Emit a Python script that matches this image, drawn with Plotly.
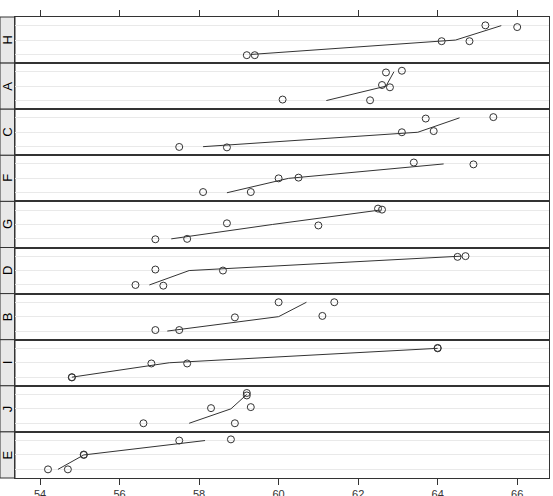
import numpy as np
import plotly.graph_objects as go
from plotly.subplots import make_subplots

# Panels, top to bottom
panels = ["H", "A", "C", "F", "G", "D", "B", "I", "J", "E"]
# y level of each point (two points per level)
levels = [1, 1, 2, 2, 3, 3]

# x values per panel (same order as levels)
H_x = [59.2, 59.4, 64.1, 64.8, 65.2, 66.0]
A_x = [60.1, 62.3, 62.6, 62.8, 62.7, 63.1]
C_x = [57.5, 58.7, 63.1, 63.9, 63.7, 65.4]
F_x = [58.1, 59.3, 60.0, 60.5, 63.4, 64.9]
G_x = [56.9, 57.7, 58.7, 61.0, 62.5, 62.6]
D_x = [56.4, 57.1, 56.9, 58.6, 64.5, 64.7]
B_x = [56.9, 57.5, 58.9, 61.1, 60.0, 61.4]
I_x = [54.8, 54.8, 56.8, 57.7, 64.0, 64.0]
J_x = [56.6, 58.9, 58.3, 59.3, 59.2, 59.2]
E_x = [54.2, 54.7, 55.1, 55.1, 57.5, 58.8]

# small vertical jitter of each point
H_j = [-0.05, -0.05, -0.08, -0.08, 0.02, -0.10]
A_j = [0.07, 0.02, 0.08, -0.08, -0.05, 0.07]
C_j = [-0.02, -0.05, 0.0, 0.08, -0.05, 0.05]
F_j = [0.05, 0.05, 0.0, 0.05, 0.10, -0.03]
G_j = [-0.03, 0.0, 0.08, -0.07, 0.10, 0.03]
D_j = [0.0, -0.05, 0.07, 0.0, -0.05, 0.0]
B_j = [0.07, 0.07, -0.05, 0.05, 0.0, 0.0]
I_j = [-0.02, 0.0, -0.05, -0.05, 0.03, 0.0]
J_j = [0.0, 0.0, 0.05, 0.12, 0.10, -0.07]
E_j = [0.0, 0.0, 0.03, 0.0, 0.0, 0.08]

x_ticks = [54, 56, 58, 60, 62, 64, 66]

xs = {"H": H_x, "A": A_x, "C": C_x, "F": F_x, "G": G_x,
      "D": D_x, "B": B_x, "I": I_x, "J": J_x, "E": E_x}
js = {"H": H_j, "A": A_j, "C": C_j, "F": F_j, "G": G_j,
      "D": D_j, "B": B_j, "I": I_j, "J": J_j, "E": E_j}

W, H = 553, 496
ml, mr, mt, mb = 15, 4, 17, 18
plot_w = W - ml - mr

n = len(panels)
fig = make_subplots(rows=n, cols=1, shared_xaxes=True, vertical_spacing=0)

ink = "#333333"
lvl = np.array(levels)
for i, p in enumerate(panels):
    r = i + 1
    x = np.array(xs[p])
    y = lvl + np.array(js[p])
    ul = np.unique(lvl)
    means = [x[lvl == u].mean() for u in ul]
    fig.add_trace(go.Scatter(x=means, y=ul, mode="lines",
                             line=dict(color=ink, width=1), showlegend=False,
                             hoverinfo="skip"), row=r, col=1)
    fig.add_trace(go.Scatter(x=x, y=y, mode="markers",
                             marker=dict(symbol="circle-open", size=7,
                                         color=ink, line=dict(width=1, color=ink)),
                             showlegend=False), row=r, col=1)
    yname = "y" if r == 1 else f"y{r}"
    # strip
    fig.add_shape(type="rect", xref="paper", yref=f"{yname} domain",
                  x0=-ml / plot_w, x1=0, y0=0, y1=1,
                  fillcolor="#e8e8e8", line=dict(color=ink, width=1), layer="below")
    fig.add_annotation(text=p, xref="paper", yref=f"{yname} domain",
                       x=-ml / plot_w / 2, y=0.5, textangle=-90, showarrow=False,
                       font=dict(size=13, color="#000000"),
                       xanchor="center", yanchor="middle")

for r in range(1, n + 1):
    fig.update_yaxes(range=[0.4, 3.6], tickvals=[1, 2, 3], showticklabels=False,
                     ticks="", showgrid=True, gridcolor="#e9e9e9", gridwidth=1,
                     zeroline=False, showline=True, mirror=True,
                     linecolor=ink, linewidth=1, row=r, col=1)
    kw = dict(range=[53.37, 66.8], tickvals=x_ticks, showgrid=False, zeroline=False,
              showline=True, mirror=True, linecolor=ink, linewidth=1, automargin=False)
    if r == 1:
        kw.update(side="top", ticks="outside", ticklen=6, tickcolor=ink,
                  showticklabels=False)
    elif r == n:
        kw.update(ticks="outside", ticklen=6, tickcolor=ink, showticklabels=True,
                  tickfont=dict(size=11, color=ink))
    else:
        kw.update(ticks="", showticklabels=False)
    fig.update_xaxes(row=r, col=1, **kw)

fig.update_layout(width=W, height=H, margin=dict(l=ml, r=mr, t=mt, b=mb),
                  plot_bgcolor="white", paper_bgcolor="white",
                  font=dict(family="Liberation Sans, Arial, sans-serif"))

fig.write_html("out.html")
